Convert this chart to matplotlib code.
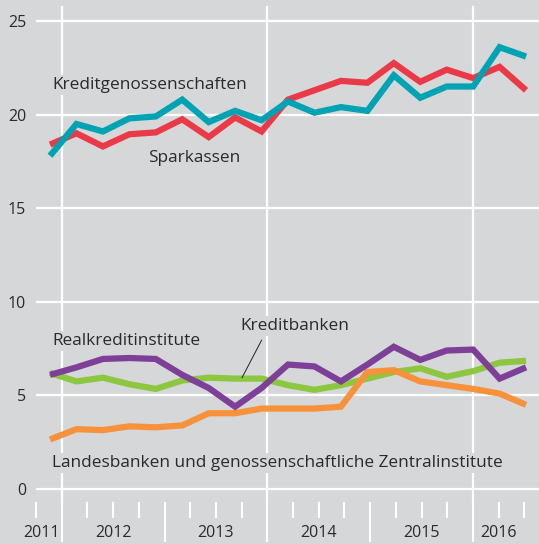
import numpy as np
import matplotlib
matplotlib.use("Agg")
import matplotlib.pyplot as plt
import matplotlib.transforms as mtransforms

BG = "#d6d7d9"
TXT = "#2a2a2a"
plt.rcParams['font.family'] = ['Open Sans', 'DejaVu Sans']

# quarterly values, 2011 Q4 .. 2016 Q2
kreditgenossenschaften = [17.8, 19.5, 19.1, 19.8, 19.9, 20.8, 19.6, 20.2, 19.7, 20.7,
                          20.1, 20.4, 20.2, 22.1, 20.9, 21.5, 21.5, 23.6, 23.1]
sparkassen = [18.4, 19.0, 18.3, 18.95, 19.05, 19.75, 18.8, 19.85, 19.1, 20.8,
              21.3, 21.8, 21.7, 22.75, 21.75, 22.4, 21.95, 22.55, 21.3]
kreditbanken = [6.1, 6.5, 6.95, 7.0, 6.95, 6.1, 5.4, 4.4, 5.4, 6.65,
                6.55, 5.75, 6.65, 7.6, 6.9, 7.4, 7.45, 5.9, 6.5]
realkredit = [6.2, 5.75, 5.95, 5.6, 5.35, 5.8, 5.95, 5.9, 5.9, 5.55,
              5.3, 5.55, 5.9, 6.25, 6.45, 6.0, 6.3, 6.75, 6.85]
landesbanken = [2.65, 3.2, 3.15, 3.35, 3.3, 3.4, 4.05, 4.05, 4.3, 4.3,
                4.3, 4.4, 6.25, 6.35, 5.75, 5.55, 5.35, 5.1, 4.5]
years = ["2011", "2012", "2013", "2014", "2015", "2016"]
yticks = [0, 5, 10, 15, 20, 25]

series = [
    (realkredit, "#8dc63f"),
    (landesbanken, "#f7923a"),
    (kreditbanken, "#7d3f98"),
    (sparkassen, "#ea3a48"),
    (kreditgenossenschaften, "#00a3b4"),
]

fig = plt.figure(figsize=(5.39, 5.44), dpi=100, facecolor=BG)
ax = fig.add_axes([36 / 539, 1 - 502 / 544, 1 - 36 / 539, 496 / 544])
ax.set_facecolor(BG)
for s in ax.spines.values():
    s.set_visible(False)

# bottom axis: quarters since 2012 Q1
ax.set_xlim(-0.93, 18.57)
ax.set_ylim(-0.69, 25.8)
for y in yticks:
    ax.axhline(y, color="white", lw=1.6, zorder=0)
for q in [0, 8, 16]:
    ax.axvline(q, color="white", lw=1.6, zorder=0)

ax.set_yticks(yticks)
ax.tick_params(axis="y", length=0, pad=7, labelsize=11.5, labelcolor=TXT)
ax.set_xticks([0, 4, 8, 12, 16])
ax.set_xticks([q for q in range(-1, 19) if q % 4 != 0], minor=True)
ax.tick_params(axis="x", which="major", direction="out", length=29, width=1.5,
               color="white", labelbottom=False)
ax.tick_params(axis="x", which="minor", direction="out", length=11.5, width=1.5,
               color="white", labelbottom=False)
trans = mtransforms.blended_transform_factory(ax.transData, ax.transAxes)
for pos, lab in zip([-0.78, 2, 6, 10, 14, 17], years):
    ax.text(pos, -0.063, lab, transform=trans, ha="center", va="center",
            fontsize=11.5, color=TXT, clip_on=False)

# data axis: one unit per observation
ax2 = ax.twiny()
ax2.set_xlim(-0.53, 18.49)
ax2.axis("off")
xs = np.arange(len(sparkassen))
for vals, col in series:
    ax2.plot(xs, vals, color=col, lw=4.5, solid_joinstyle="miter",
             solid_capstyle="butt", zorder=3)

box = dict(facecolor=BG, edgecolor="none", pad=1.5)
labels = [
    (0.08, 21.6, "Kreditgenossenschaften"),
    (3.7, 17.7, "Sparkassen"),
    (0.08, 7.9, "Realkreditinstitute"),
    (7.2, 8.7, "Kreditbanken"),
    (0.08, 1.4, "Landesbanken und genossenschaftliche Zentralinstitute"),
]
for x, y, t in labels:
    ax2.text(x, y, t, fontsize=12.4, color=TXT, va="center", ha="left",
             bbox=box, zorder=2)
ax2.plot([8.0, 7.26], [7.95, 5.95], color="#222222", lw=0.7, zorder=4)

fig.savefig("out.png", dpi=100, facecolor=BG)
